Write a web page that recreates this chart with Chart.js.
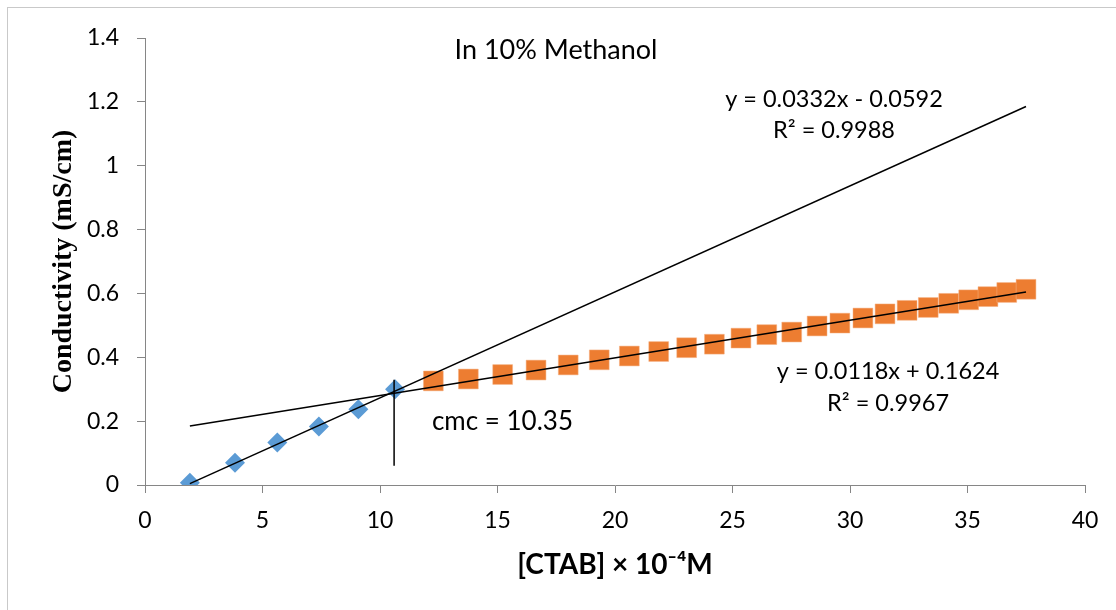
<!DOCTYPE html>
<html>
<head>
<meta charset="utf-8">
<script src="https://cdn.jsdelivr.net/npm/chart.js@4/dist/chart.umd.min.js"></script>
<style>
  html, body { margin: 0; padding: 0; background: #ffffff; }
  #wrap { position: relative; width: 1116px; height: 610px; }
</style>
</head>
<body>
<div id="wrap"><canvas id="c" width="1116" height="610"></canvas></div>
<script>
// ---- data ----
const xBlue = [1.91, 3.83, 5.63, 7.40, 9.08, 10.64];
const yBlue = [0.007, 0.070, 0.133, 0.183, 0.237, 0.300];

const xOrange = [12.27, 13.76, 15.22, 16.64, 18.01, 19.33, 20.61, 21.86, 23.05, 24.23,
                 25.36, 26.46, 27.52, 28.60, 29.57, 30.55, 31.49, 32.43, 33.33, 34.20,
                 35.05, 35.87, 36.67, 37.49];
const yOrange = [0.326, 0.332, 0.346, 0.360, 0.376, 0.392, 0.404, 0.418, 0.430, 0.441,
                 0.460, 0.471, 0.479, 0.498, 0.507, 0.523, 0.536, 0.547, 0.556, 0.569,
                 0.580, 0.590, 0.603, 0.613];

const fitSlope = [0.0332, 0.0118];
const fitIntercept = [-0.0592, 0.1624];
const fitR2 = ['0.9988', '0.9967'];

const cmcValue = '10.35';
const cmcLineX = [10.6, 10.6];
const cmcLineY = [0.06, 0.33];

const xTickValues = [0, 5, 10, 15, 20, 25, 30, 35, 40];
const yTickValues = [0, 0.2, 0.4, 0.6, 0.8, 1.0, 1.2, 1.4];

const chartNote = 'In 10% Methanol';
const xTitle = '[CTAB] × 10⁻⁴M';
const yTitle = 'Conductivity (mS/cm)';

// ---- build datasets ----
const blueData = xBlue.map((x, i) => ({ x, y: yBlue[i] }));
const orangeData = xOrange.map((x, i) => ({ x, y: yOrange[i] }));
const allX = xBlue.concat(xOrange);
const xMinData = Math.min(...allX), xMaxData = Math.max(...allX);
const trend = (k) => [xMinData, xMaxData].map(x => ({ x, y: fitSlope[k] * x + fitIntercept[k] }));
const cmcData = cmcLineX.map((x, i) => ({ x, y: cmcLineY[i] }));

const fmtSigned = (v) => (v < 0 ? ' - ' : ' + ') + Math.abs(v).toFixed(4);
const eqText = (k) => 'y = ' + fitSlope[k].toFixed(4) + 'x' + fmtSigned(fitIntercept[k]);

const FONT = 'Lato, "Open Sans", sans-serif';

const frame = {
  id: 'frame',
  beforeDraw(chart) {
    const ctx = chart.ctx;
    ctx.save();
    ctx.fillStyle = '#ffffff';
    ctx.fillRect(0, 0, chart.width, chart.height);
    ctx.strokeStyle = '#c9c9c9';
    ctx.lineWidth = 1;
    ctx.strokeRect(7.5, 7.5, chart.width + 20, chart.height + 20);
    ctx.restore();
  }
};

const notes = {
  id: 'notes',
  afterDatasetsDraw(chart) {
    const ctx = chart.ctx;
    const xs = chart.scales.x, ys = chart.scales.y;
    const P = (x, y) => [xs.getPixelForValue(x), ys.getPixelForValue(y)];
    ctx.save();
    ctx.fillStyle = '#000000';
    ctx.textBaseline = 'middle';
    ctx.textAlign = 'center';
    ctx.font = '27px ' + FONT;
    let p = P(17.49, 1.363); ctx.fillText(chartNote, p[0], p[1]);
    ctx.font = '23.5px ' + FONT;
    p = P(29.32, 1.2065); ctx.fillText(eqText(0), p[0], p[1]);
    p = P(29.32, 1.109); ctx.fillText('R² = ' + fitR2[0], p[0], p[1]);
    p = P(31.62, 0.357); ctx.fillText(eqText(1), p[0], p[1]);
    p = P(31.62, 0.254); ctx.fillText('R² = ' + fitR2[1], p[0], p[1]);
    ctx.font = '26px ' + FONT;
    ctx.textAlign = 'left';
    p = P(12.21, 0.197); ctx.fillText('cmc = ' + cmcValue, p[0], p[1]);
    ctx.restore();
  }
};

new Chart(document.getElementById('c'), {
  type: 'scatter',
  data: {
    datasets: [
      { label: 'trend1', type: 'line', data: trend(0), showLine: true, borderColor: '#000000',
        borderWidth: 1.5, pointRadius: 0, fill: false, order: 0 },
      { label: 'trend2', type: 'line', data: trend(1), showLine: true, borderColor: '#000000',
        borderWidth: 1.5, pointRadius: 0, fill: false, order: 0 },
      { label: 'cmc', type: 'line', data: cmcData, showLine: true, borderColor: '#000000',
        borderWidth: 1.5, pointRadius: 0, fill: false, order: 0 },
      { label: 'pre', data: blueData, pointStyle: 'rectRot', pointRadius: 10,
        backgroundColor: '#5B9BD5', borderColor: '#5B9BD5', borderWidth: 0, order: 1 },
      { label: 'post', data: orangeData, pointStyle: 'rect', pointRadius: 14,
        backgroundColor: '#ED7D31', borderColor: '#F4B183', borderWidth: 0.5, order: 1 }
    ]
  },
  options: {
    responsive: false,
    animation: false,
    events: [],
    layout: { padding: { top: 38, right: 31, left: 0, bottom: 0 } },
    plugins: { legend: { display: false }, tooltip: { enabled: false }, title: { display: false } },
    scales: {
      x: {
        type: 'linear', min: 0, max: 40,
        afterFit(s) { s.height = 125; },
        afterBuildTicks(s) { s.ticks = xTickValues.map(v => ({ value: v })); },
        grid: { display: true, drawOnChartArea: false, drawTicks: true, tickLength: 8, color: '#868686', lineWidth: 1 },
        border: { display: true, color: '#868686', width: 1 },
        ticks: { color: '#000000', padding: 14, maxRotation: 0, autoSkip: false,
          font: { family: FONT, size: 23 } },
        title: { display: true, text: xTitle, color: '#000000',
          font: { family: FONT, size: 28, weight: 'bold' },
          padding: { top: 0, bottom: 28 } }
      },
      y: {
        type: 'linear', min: 0, max: 1.4,
        afterFit(s) { s.width = 145; },
        afterBuildTicks(s) { s.ticks = yTickValues.map(v => ({ value: v })); },
        grid: { display: true, drawOnChartArea: false, drawTicks: true, tickLength: 8, color: '#868686', lineWidth: 1 },
        border: { display: true, color: '#868686', width: 1 },
        ticks: { color: '#000000', padding: 18, autoSkip: false,
          callback: (v) => String(Number(v.toFixed(1))),
          font: { family: FONT, size: 23 } },
        title: { display: true, text: yTitle, color: '#000000',
          font: { family: '"Liberation Serif", "Times New Roman", serif', size: 28, weight: 'bold' },
          padding: { top: 47, bottom: 0 } }
      }
    }
  },
  plugins: [frame, notes]
});
</script>
</body>
</html>
